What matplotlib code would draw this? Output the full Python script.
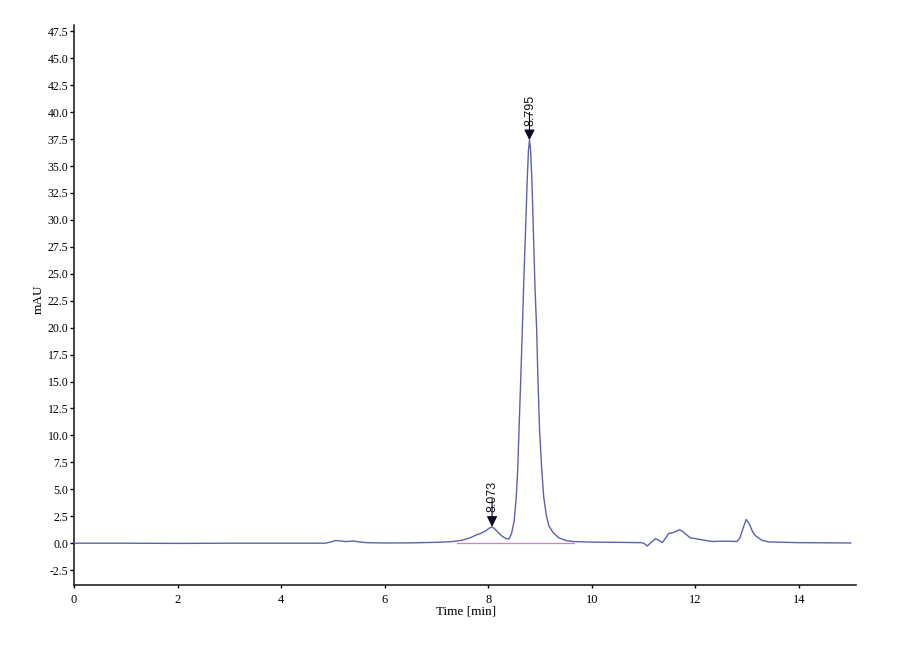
import matplotlib
matplotlib.use("Agg")
import matplotlib.pyplot as plt

# ---- data ----
time_min = [0.0, 1.0, 2.0, 3.0, 4.0, 4.85, 4.95, 5.05, 5.15, 5.25, 5.4, 5.5, 5.65,
            6.0, 6.5, 7.0, 7.3, 7.5, 7.65, 7.76, 7.85, 7.95, 8.02, 8.073, 8.12,
            8.2, 8.28, 8.35, 8.40, 8.45, 8.50, 8.54, 8.57, 8.593, 8.625, 8.657,
            8.69, 8.72, 8.75, 8.775, 8.795, 8.815, 8.84, 8.87, 8.90, 8.934, 8.96,
            8.99, 9.03, 9.07, 9.12, 9.17, 9.25, 9.36, 9.50, 9.65, 10.0, 10.5,
            10.95, 11.0, 11.07, 11.15, 11.23, 11.3, 11.36, 11.42, 11.48, 11.58,
            11.69, 11.75, 11.81, 11.9, 12.06, 12.2, 12.32, 12.58, 12.8, 12.86,
            12.92, 12.98, 13.04, 13.1, 13.15, 13.28, 13.41, 14.0, 15.0]
signal_mau = [0.0, 0.0, -0.02, 0.0, 0.0, 0.0, 0.1, 0.25, 0.2, 0.15, 0.2, 0.12, 0.05,
              0.02, 0.03, 0.08, 0.15, 0.28, 0.5, 0.75, 0.9, 1.15, 1.4, 1.52, 1.35,
              0.95, 0.6, 0.42, 0.40, 0.9, 2.1, 4.3, 7.0, 10.5, 15.0, 19.8,
              25.0, 29.1, 33.5, 36.4, 37.4, 36.6, 34.0, 29.1, 24.0, 19.8, 15.0,
              10.5, 7.0, 4.3, 2.6, 1.6, 1.0, 0.5, 0.25, 0.15, 0.1, 0.08,
              0.05, 0.0, -0.25, 0.1, 0.42, 0.25, 0.06, 0.45, 0.9, 1.0,
              1.25, 1.1, 0.85, 0.5, 0.37, 0.25, 0.16, 0.19, 0.16, 0.5,
              1.4, 2.2, 1.8, 1.1, 0.74, 0.28, 0.12, 0.05, 0.02]

peak_times = [8.073, 8.795]
peak_heights = [1.52, 37.4]
peak_labels = ["8.073", "8.795"]

baseline_times = [7.4, 9.65]
baseline_values = [0.0, 0.0]

x_ticks = [0, 2, 4, 6, 8, 10, 12, 14]
y_ticks = [-2.5, 0.0, 2.5, 5.0, 7.5, 10.0, 12.5, 15.0, 17.5, 20.0, 22.5, 25.0,
           27.5, 30.0, 32.5, 35.0, 37.5, 40.0, 42.5, 45.0, 47.5]

# ---- figure ----
fig = plt.figure(figsize=(9, 6.6), dpi=100)
ax = fig.add_axes([0.0822, 0.1133, 0.8689, 0.849])

ax.plot(baseline_times, baseline_values, color="#e07ac8", lw=0.9, zorder=2)
ax.plot(time_min, signal_mau, color="#5d60ad", lw=1.0, zorder=3)

for t, h, lab in zip(peak_times, peak_heights, peak_labels):
    ax.annotate("", xy=(t, h), xytext=(0, 20), textcoords="offset points",
                arrowprops=dict(arrowstyle="-|>", color="#0a0a2a", lw=0.8,
                                mutation_scale=16, shrinkA=0, shrinkB=0),
                zorder=5)
    ax.annotate(lab, xy=(t, h), xytext=(0.5, 10.5), textcoords="offset points",
                rotation=90, ha="center", va="bottom", fontsize=9,
                family="Liberation Sans", color="#111111")

ax.set_xlim(0, 15.1)
ax.set_ylim(-3.9, 48.1)
ax.set_xticks(x_ticks)
ax.set_yticks(y_ticks)
ax.set_yticklabels([f"{v:.1f}" for v in y_ticks])

for side in ("top", "right"):
    ax.spines[side].set_visible(False)
for side in ("left", "bottom"):
    ax.spines[side].set_linewidth(1.1)
    ax.spines[side].set_color("#111111")

ax.tick_params(axis="y", direction="out", length=3, width=1, labelsize=8.5, pad=1)
ax.tick_params(axis="x", direction="out", length=2, width=1, labelsize=9, pad=4)
for lbl in ax.get_xticklabels() + ax.get_yticklabels():
    lbl.set_family("Liberation Serif")

ax.set_xlabel("Time [min]", family="Liberation Serif", fontsize=9.5)
ax.xaxis.set_label_coords(0.501, -0.037)
ax.set_ylabel("mAU", family="Liberation Serif", fontsize=9.5)
ax.yaxis.set_label_coords(-0.037, 0.51)

fig.savefig("out.png", dpi=100, facecolor="white")
